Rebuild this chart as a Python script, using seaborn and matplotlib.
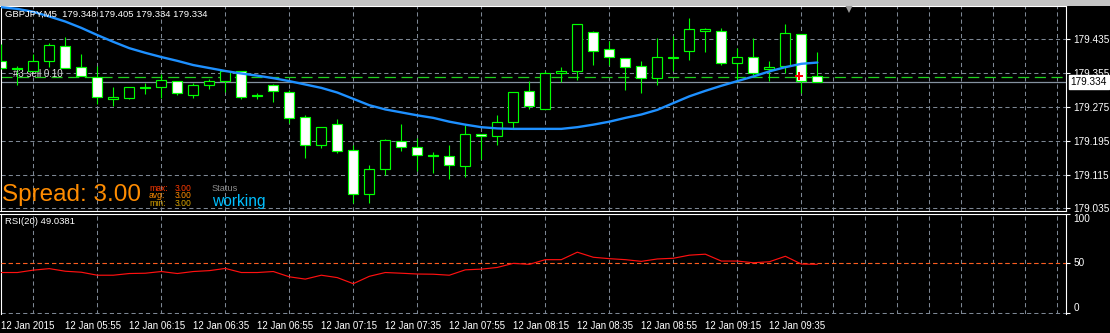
import matplotlib
matplotlib.use("Agg")
import matplotlib.pyplot as plt
import matplotlib.transforms as mtrans
from matplotlib.patches import Rectangle
import pandas as pd
import seaborn as sns

# ---------------- data ----------------
bar_index = list(range(52))
opens = [179.383, 179.366, 179.361, 179.384, 179.418, 179.370, 179.346, 179.293, 179.297, 179.321,
         179.321, 179.337, 179.304, 179.326, 179.336, 179.359, 179.304, 179.326, 179.310, 179.251,
         179.186, 179.234, 179.172, 179.068, 179.127, 179.194, 179.179, 179.161, 179.158, 179.134,
         179.210, 179.205, 179.239, 179.312, 179.269, 179.355, 179.361, 179.452, 179.411, 179.390,
         179.371, 179.344, 179.390, 179.407, 179.454, 179.454, 179.380, 179.392, 179.364, 179.371,
         179.447, 179.348]
highs = [179.425, 179.372, 179.400, 179.426, 179.440, 179.401, 179.371, 179.321, 179.322, 179.332,
         179.353, 179.337, 179.332, 179.342, 179.361, 179.360, 179.309, 179.329, 179.315, 179.255,
         179.227, 179.246, 179.185, 179.137, 179.200, 179.235, 179.201, 179.168, 179.186, 179.232,
         179.210, 179.256, 179.310, 179.336, 179.360, 179.369, 179.471, 179.454, 179.431, 179.390,
         179.383, 179.438, 179.443, 179.485, 179.462, 179.462, 179.414, 179.438, 179.384, 179.471,
         179.447, 179.405]
lows = [179.365, 179.327, 179.361, 179.370, 179.367, 179.347, 179.283, 179.278, 179.294, 179.306,
        179.297, 179.302, 179.296, 179.318, 179.310, 179.294, 179.293, 179.287, 179.238, 179.153,
        179.178, 179.167, 179.048, 179.048, 179.114, 179.171, 179.124, 179.119, 179.105, 179.108,
        179.152, 179.186, 179.222, 179.269, 179.269, 179.333, 179.339, 179.375, 179.374, 179.315,
        179.309, 179.327, 179.361, 179.387, 179.406, 179.373, 179.335, 179.350, 179.337, 179.355,
        179.309, 179.334]
closes = [179.366, 179.365, 179.384, 179.421, 179.368, 179.348, 179.298, 179.298, 179.321, 179.320,
          179.338, 179.307, 179.326, 179.336, 179.359, 179.299, 179.300, 179.312, 179.248, 179.186,
          179.227, 179.171, 179.068, 179.127, 179.196, 179.179, 179.160, 179.158, 179.137, 179.210,
          179.205, 179.239, 179.310, 179.278, 179.355, 179.359, 179.471, 179.408, 179.392, 179.370,
          179.344, 179.392, 179.392, 179.459, 179.459, 179.378, 179.392, 179.355, 179.369, 179.449,
          179.336, 179.334]
ma_values = [179.511, 179.507, 179.500, 179.489, 179.477, 179.462, 179.445, 179.429, 179.414, 179.403,
             179.393, 179.384, 179.374, 179.367, 179.360, 179.354, 179.349, 179.343, 179.336, 179.328,
             179.320, 179.309, 179.294, 179.279, 179.269, 179.262, 179.255, 179.249, 179.240, 179.233,
             179.227, 179.224, 179.223, 179.223, 179.223, 179.223, 179.227, 179.233, 179.240, 179.249,
             179.257, 179.268, 179.284, 179.300, 179.313, 179.325, 179.336, 179.347, 179.359, 179.369,
             179.377, 179.380]
rsi_values = [40.8, 40.8, 43.2, 44.7, 42.1, 41.1, 38.1, 38.1, 39.8, 40.1,
              41.8, 39.8, 41.8, 42.7, 44.9, 40.8, 40.8, 41.8, 36.5, 34.2,
              38.1, 35.7, 29.6, 37.0, 40.8, 40.1, 39.3, 39.1, 38.1, 43.5,
              44.2, 45.9, 50.0, 49.0, 53.7, 53.7, 61.2, 56.1, 54.7, 53.7,
              52.0, 54.4, 55.1, 58.2, 59.2, 52.3, 52.3, 50.6, 51.6, 57.1,
              49.3, 49.04]
price_ticks = [179.035, 179.115, 179.195, 179.275, 179.355, 179.435]
rsi_ticks = [0, 50, 100]
rsi_level = 50
time_tick_bars = [0, 4, 8, 12, 16, 20, 24, 28, 32, 36, 40, 44, 48]
time_labels = ["12 Jan 2015", "12 Jan 05:55", "12 Jan 06:15", "12 Jan 06:35", "12 Jan 06:55",
               "12 Jan 07:15", "12 Jan 07:35", "12 Jan 07:55", "12 Jan 08:15", "12 Jan 08:35",
               "12 Jan 08:55", "12 Jan 09:15", "12 Jan 09:35"]
bid_price = 179.334
order_price = 179.3465
order_bar = 49.85
order_label = "#3 sell 0.10"
title_text = "GBPJPY,M5  179.348 179.405 179.334 179.334"
rsi_text = "RSI(20) 49.0381"
spread_value = 3.00
spread_stats = [("max:", 3.00), ("avg:", 3.00), ("min:", 3.00)]

# ---------------- style ----------------
sns.set_theme(style="dark")
plt.rcParams["font.family"] = ["Liberation Sans", "DejaVu Sans"]
plt.rcParams["lines.scale_dashes"] = False

W, H = 1110, 333
def fx(px):
    return px / W
def fy(py):
    return 1 - py / H

fig = plt.figure(figsize=(W / 100, H / 100), dpi=100, facecolor="black")
fig.patches.append(Rectangle((0, fy(5.5)), 1, 5.5 / H, transform=fig.transFigure,
                             facecolor="#c4c4c4", edgecolor="none", zorder=0))

ax = fig.add_axes([fx(0.5), fy(210.5), fx(1066) - fx(0.5), fy(6) - fy(210.5)])
ax2 = fig.add_axes([fx(0.5), fy(313.8), fx(1066) - fx(0.5), fy(213.5) - fy(313.8)], sharex=ax)

grid_color = "#7d8794"
grid_ls = (0, (3, 2.2))
for a in (ax, ax2):
    a.set_facecolor("black")
    for s in a.spines.values():
        s.set_color("white")
        s.set_linewidth(0.8)
    a.set_xticks(list(range(2, 67, 2)), minor=True)
    a.grid(False)
    a.grid(True, which="minor", axis="x", color=grid_color, ls=grid_ls, lw=0.75)
    a.grid(True, which="major", axis="y", color=grid_color, ls=grid_ls, lw=0.75)
    a.tick_params(which="minor", length=0)

ax.set_xlim(-0.05, 66.54)
ax.set_ylim(179.0298, 179.5138)
ax2.set_ylim(-0.6, 100)
ax2.spines["bottom"].set_visible(False)

# price axis
ax.yaxis.tick_right()
ax.set_yticks(price_ticks)
ax.set_yticklabels([f"{v:.3f}" for v in price_ticks])
ax.tick_params(axis="y", colors="white", length=3, width=0.8, pad=2.5, labelsize=7.2)
ax.tick_params(axis="x", which="both", length=0, labelbottom=False)

# rsi axis
ax2.yaxis.tick_right()
ax2.set_yticks(rsi_ticks)
ax2.set_yticklabels([str(v) for v in rsi_ticks])
ax2.tick_params(axis="y", colors="white", length=3, width=0.8, pad=2.5, labelsize=7.2)
for lab, va in zip(ax2.get_yticklabels(), ["bottom", "center", "top"]):
    lab.set_verticalalignment(va)
ax2.set_xticks(time_tick_bars)
ax2.set_xticklabels(time_labels, ha="left")
ax2.tick_params(axis="x", which="major", colors="white", length=3, width=0.8, pad=2,
                labelsize=7.0)

# reference lines
ax.axhline(bid_price, color="#8592a0", lw=0.9, zorder=2)
ax.axhline(order_price, color="#1fd01f", lw=0.9, ls=(0, (8, 4)), zorder=2)

# candles
df = pd.DataFrame({"i": bar_index, "o": opens, "h": highs, "l": lows, "c": closes,
                   "ma": ma_values, "rsi": rsi_values})
bull = df["c"] >= df["o"]
ax.vlines(df["i"], df["l"], df["h"], color="#00ff00", lw=0.8, zorder=3)
ax.bar(df["i"], (df["c"] - df["o"]).abs(), bottom=df[["o", "c"]].min(axis=1), width=0.62,
       color=["black" if b else "white" for b in bull], edgecolor="#00ff00", linewidth=0.85,
       zorder=4)

# moving average
sns.lineplot(data=df, x="i", y="ma", ax=ax, color="#1e90ff", lw=1.7, zorder=5,
             legend=False, estimator=None)
ax.set_xlabel("")
ax.set_ylabel("")

# order arrow
ax.plot([order_bar], [order_price + 0.0015], marker="P", color="red", markersize=5.5,
        markeredgewidth=0, zorder=6, ls="none")
ax.text(0.012, order_price + 0.0065, order_label, transform=mtrans.blended_transform_factory(
    ax.transAxes, ax.transData), color="#e0e0e0", fontsize=7, va="center", ha="left", zorder=3.5)

# chart shift marker
ax.plot([53.0], [0.985], marker="v", color="#9a9a9a", markersize=6, markeredgewidth=0,
        transform=mtrans.blended_transform_factory(ax.transData, ax.transAxes),
        clip_on=False, zorder=6, ls="none")

# bid box
ax.annotate(f"{bid_price:.3f}", xy=(1.0, bid_price), xycoords=mtrans.blended_transform_factory(
    ax.transAxes, ax.transData), xytext=(3.2, 0), textcoords="offset points", ha="left",
    va="center", fontsize=7.2, color="black", annotation_clip=False,
    bbox=dict(boxstyle="square,pad=0.18", fc="white", ec="white"))

# RSI
sns.lineplot(data=df, x="i", y="rsi", ax=ax2, color="#ff1010", lw=0.85, zorder=5,
             legend=False, estimator=None)
ax2.axhline(rsi_level, color="#ff5a1a", lw=0.8, ls=(0, (3, 2.2)), zorder=4)
ax2.set_xlabel("")
ax2.set_ylabel("")

# overlay texts
fig.text(fx(5), fy(14.5), title_text, color="white", fontsize=6.8, va="center", ha="left")
fig.text(fx(5), fy(222), rsi_text, color="white", fontsize=6.8, va="center", ha="left")
fig.text(fx(2.5), fy(195.5), f"Spread: {spread_value:.2f}", color="#ff8c00", fontsize=17.5,
         va="center", ha="left")
stat_colors = ["#ff3a00", "#ff8a00", "#d9a400"]
for k, ((name, val), col) in enumerate(zip(spread_stats, stat_colors)):
    yy = 188 + 7.5 * k
    fig.text(fx(149), fy(yy), name, color=col, fontsize=6.2, va="center", ha="left")
    fig.text(fx(175), fy(yy), f"{val:.2f}", color=col, fontsize=6.2, va="center", ha="left")
fig.text(fx(211.5), fy(188), "Status", color="#8c8c8c", fontsize=6.6, va="center", ha="left")
fig.text(fx(212.5), fy(201), "working", color="#00bfff", fontsize=11.2, va="center", ha="left")

fig.savefig("out.png", dpi=100, facecolor="black")
